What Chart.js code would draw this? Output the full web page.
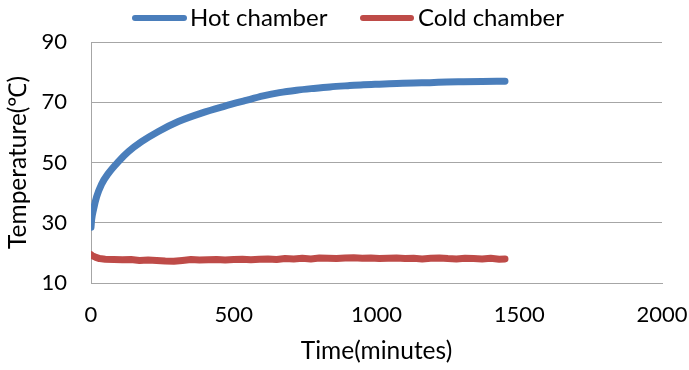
<!DOCTYPE html>
<html>
<head>
<meta charset="utf-8">
<script src="https://cdn.jsdelivr.net/npm/chart.js@4"></script>
<style>
  html, body { margin: 0; padding: 0; background: #fff; }
  #wrap { width: 689px; height: 370px; }
</style>
</head>
<body>
<div id="wrap"><canvas id="tempChart"></canvas></div>
<script>
// values
const hotTime = [0, 2, 9, 20, 37, 61, 96, 131, 177, 236, 306, 387, 469, 539, 603, 660, 720, 780, 837, 900, 954, 1010, 1071, 1130, 1187, 1245, 1304, 1370, 1450];
const hotTemp = [28.5, 30.9, 34.5, 38.7, 42.8, 46.4, 50.3, 53.6, 56.9, 60.3, 63.6, 66.4, 68.7, 70.5, 72.1, 73.2, 74.0, 74.6, 75.1, 75.5, 75.8, 76.0, 76.2, 76.4, 76.5, 76.7, 76.8, 76.9, 77.0];

const coldTime = [0, 5, 15, 30, 50, 80, 110, 140, 170, 200, 230, 260, 290, 320, 350, 380, 410, 440, 470, 500, 530, 560, 590, 620, 650, 680, 710, 740, 770, 800, 830, 860, 890, 920, 950, 980, 1010, 1040, 1070, 1100, 1130, 1160, 1190, 1220, 1250, 1280, 1310, 1340, 1370, 1400, 1430, 1450];
const coldTemp = [19.4, 19.0, 18.6, 18.1, 17.9, 17.8, 17.7, 17.8, 17.5, 17.6, 17.5, 17.3, 17.2, 17.5, 17.8, 17.6, 17.7, 17.8, 17.6, 17.8, 17.9, 17.7, 17.9, 18.0, 17.8, 18.1, 18.0, 18.2, 18.0, 18.3, 18.2, 18.1, 18.3, 18.4, 18.2, 18.3, 18.1, 18.2, 18.3, 18.1, 18.2, 18.0, 18.2, 18.3, 18.1, 18.0, 18.2, 18.1, 18.0, 18.2, 17.9, 18.0];

const seriesNames = ['Hot chamber', 'Cold chamber'];
const seriesColors = ['#4a7ebb', '#be4b48'];
const xTicks = [0, 500, 1000, 1500, 2000];
const yTicks = [10, 30, 50, 70, 90];

const fontFamily = 'Lato, "Open Sans", sans-serif';
const gridColor = '#a6a6a6';

function toPoints(xs, ys) {
    return xs.map((x, i) => ({ x: x, y: ys[i] }));
}

// legend drawn above the plot: line sample + label
const topLegend = {
    id: 'topLegend',
    afterDraw(chart) {
        const ctx = chart.ctx;
        const items = [
            { x0: 135, x1: 184, tx: 190 },
            { x0: 363, x1: 411, tx: 418 }
        ];
        const y = 18;
        ctx.save();
        ctx.font = '24px ' + fontFamily;
        ctx.textBaseline = 'middle';
        ctx.fillStyle = '#000';
        items.forEach((it, i) => {
            ctx.beginPath();
            ctx.strokeStyle = seriesColors[i];
            ctx.lineWidth = 6;
            ctx.lineCap = 'round';
            ctx.moveTo(it.x0, y);
            ctx.lineTo(it.x1, y);
            ctx.stroke();
            ctx.fillText(seriesNames[i], it.tx, y);
        });
        ctx.restore();
    }
};

const ctx = document.getElementById('tempChart').getContext('2d');
new Chart(ctx, {
    type: 'line',
    data: {
        datasets: [{
            label: seriesNames[0],
            data: toPoints(hotTime, hotTemp),
            borderColor: seriesColors[0],
            borderWidth: 7,
            borderCapStyle: 'round',
            borderJoinStyle: 'round',
            cubicInterpolationMode: 'monotone',
            pointRadius: 0,
            fill: false
        }, {
            label: seriesNames[1],
            data: toPoints(coldTime, coldTemp),
            borderColor: seriesColors[1],
            borderWidth: 7,
            borderCapStyle: 'round',
            borderJoinStyle: 'round',
            pointRadius: 0,
            fill: false
        }]
    },
    options: {
        responsive: true,
        maintainAspectRatio: false,
        animation: false,
        layout: { padding: { top: 42, right: 27, bottom: 0, left: 0 } },
        plugins: {
            legend: { display: false },
            tooltip: { enabled: false }
        },
        scales: {
            x: {
                type: 'linear',
                min: xTicks[0],
                max: xTicks[xTicks.length - 1],
                afterBuildTicks: (scale) => { scale.ticks = xTicks.map(v => ({ value: v })); },
                afterFit: (scale) => {
                    scale.height = 87;
                    scale.paddingLeft = 0;
                    scale.paddingRight = 0;
                },
                grid: { display: false, drawTicks: false },
                border: { display: true, color: gridColor, width: 1 },
                ticks: {
                    padding: 19,
                    color: '#000',
                    font: { family: fontFamily, size: 22 },
                    callback: (value) => String(value)
                },
                title: {
                    display: true,
                    text: 'Time(minutes)',
                    color: '#000',
                    font: { family: fontFamily, size: 24.5 },
                    padding: { top: 0, bottom: 4 }
                }
            },
            y: {
                type: 'linear',
                min: yTicks[0],
                max: yTicks[yTicks.length - 1],
                afterBuildTicks: (scale) => { scale.ticks = yTicks.map(v => ({ value: v })); },
                afterFit: (scale) => {
                    scale.width = 91;
                    scale.paddingTop = 0;
                    scale.paddingBottom = 0;
                },
                grid: { color: gridColor, lineWidth: 1, drawTicks: false },
                border: { display: true, color: gridColor, width: 1 },
                ticks: {
                    padding: 24,
                    color: '#000',
                    font: { family: fontFamily, size: 22 },
                    callback: (value) => String(value)
                },
                title: {
                    display: true,
                    text: 'Temperature(℃)',
                    color: '#000',
                    font: { family: fontFamily, size: 24.5 },
                    padding: { top: 3, bottom: 0 }
                }
            }
        }
    },
    plugins: [topLegend]
});
</script>
</body>
</html>
